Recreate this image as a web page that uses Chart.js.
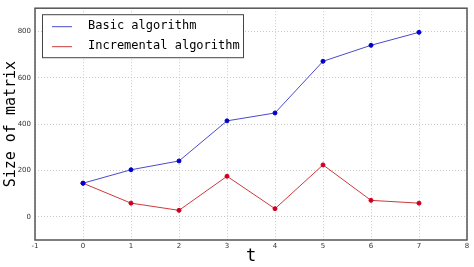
<!DOCTYPE html>
<html><head><meta charset="utf-8">
<script src="https://cdn.jsdelivr.net/npm/chart.js@4.4.0/dist/chart.umd.min.js"></script>
<style>html,body{margin:0;padding:0;background:#fff}#wrap{width:474px;height:267px}</style>
</head><body><div id="wrap"><canvas id="c" width="474" height="267"></canvas></div>
<script>
const tValues = [0, 1, 2, 3, 4, 5, 6, 7];
const basicValues = [145, 203, 241, 414, 448, 671, 740, 796];
const incrementalValues = [145, 59, 28, 175, 35, 224, 71, 59];
const seriesNames = ['Basic algorithm', 'Incremental algorithm'];
const yTickValues = [0, 200, 400, 600, 800];
const xAxisTitle = 't';
const yAxisTitle = 'Size of matrix';

const toPts = vals => tValues.map((t, i) => ({x: t, y: vals[i]}));

const legendPlugin = {
  id: 'boxLegend',
  afterDraw(chart) {
    const ctx = chart.ctx;
    const a = chart.chartArea;
    const x0 = a.left + 7, y0 = a.top + 6, w = 201, h = 43;
    ctx.save();
    ctx.fillStyle = '#fff';
    ctx.fillRect(x0, y0, w, h);
    ctx.strokeStyle = '#444';
    ctx.lineWidth = 1;
    ctx.strokeRect(x0 + 0.5, y0 + 0.5, w, h);
    ctx.font = '12px "DejaVu Sans Mono"';
    ctx.textBaseline = 'middle';
    chart.data.datasets.forEach((ds, i) => {
      const yy = y0 + 12 + i * 20;
      ctx.strokeStyle = ds.borderColor;
      ctx.beginPath();
      ctx.moveTo(x0 + 10, yy + 0.5);
      ctx.lineTo(x0 + 30, yy + 0.5);
      ctx.stroke();
      ctx.fillStyle = '#000';
      ctx.fillText(ds.label, x0 + 46, yy);
    });
    ctx.restore();
  }
};

const framePlugin = {
  id: 'frame',
  afterDatasetsDraw(chart) {
    const ctx = chart.ctx, a = chart.chartArea;
    ctx.save();
    ctx.strokeStyle = '#555';
    ctx.lineWidth = 1.5;
    ctx.strokeRect(a.left, a.top, a.right - a.left, a.bottom - a.top);
    ctx.restore();
  }
};

new Chart(document.getElementById('c'), {
  type: 'line',
  data: {
    datasets: [
      {label: seriesNames[0], data: toPts(basicValues), borderColor: '#4a4acc', backgroundColor: '#0000cc',
       pointBackgroundColor: '#0000cc', pointBorderColor: '#0000cc', pointRadius: 2, borderWidth: 1, tension: 0},
      {label: seriesNames[1], data: toPts(incrementalValues), borderColor: '#cc3a3a', backgroundColor: '#cc0022',
       pointBackgroundColor: '#cc0022', pointBorderColor: '#cc0022', pointRadius: 2, borderWidth: 1, tension: 0}
    ]
  },
  options: {
    responsive: false,
    animation: false,
    layout: {padding: {top: 3, right: 7, left: 0, bottom: 0}},
    plugins: {legend: {display: false}, tooltip: {enabled: false}},
    scales: {
      x: {
        type: 'linear', min: -1, max: 8,
        ticks: {stepSize: 1, color: '#333', font: {family: 'DejaVu Sans', size: 7}, padding: 2},
        grid: {color: '#c8c8c8', drawTicks: false},
        border: {display: false, dash: [1, 2]},
        title: {display: true, text: xAxisTitle, color: '#000', font: {family: 'DejaVu Sans Mono', size: 17}, padding: {top: 3, bottom: 0}},
        afterFit(s) { s.height = 27; }
      },
      y: {
        type: 'linear', min: -100, max: 900,
        afterBuildTicks(s) { s.ticks = yTickValues.map(v => ({value: v})); },
        ticks: {color: '#333', font: {family: 'DejaVu Sans', size: 7}, padding: 4},
        grid: {color: '#c8c8c8', drawTicks: false},
        border: {display: false, dash: [1, 2]},
        title: {display: true, text: yAxisTitle, color: '#000', font: {family: 'DejaVu Sans Mono', size: 15}, padding: {top: 2, bottom: 0}},
        afterFit(s) { s.width = 35; }
      }
    }
  },
  plugins: [legendPlugin, framePlugin]
});
</script></body></html>
